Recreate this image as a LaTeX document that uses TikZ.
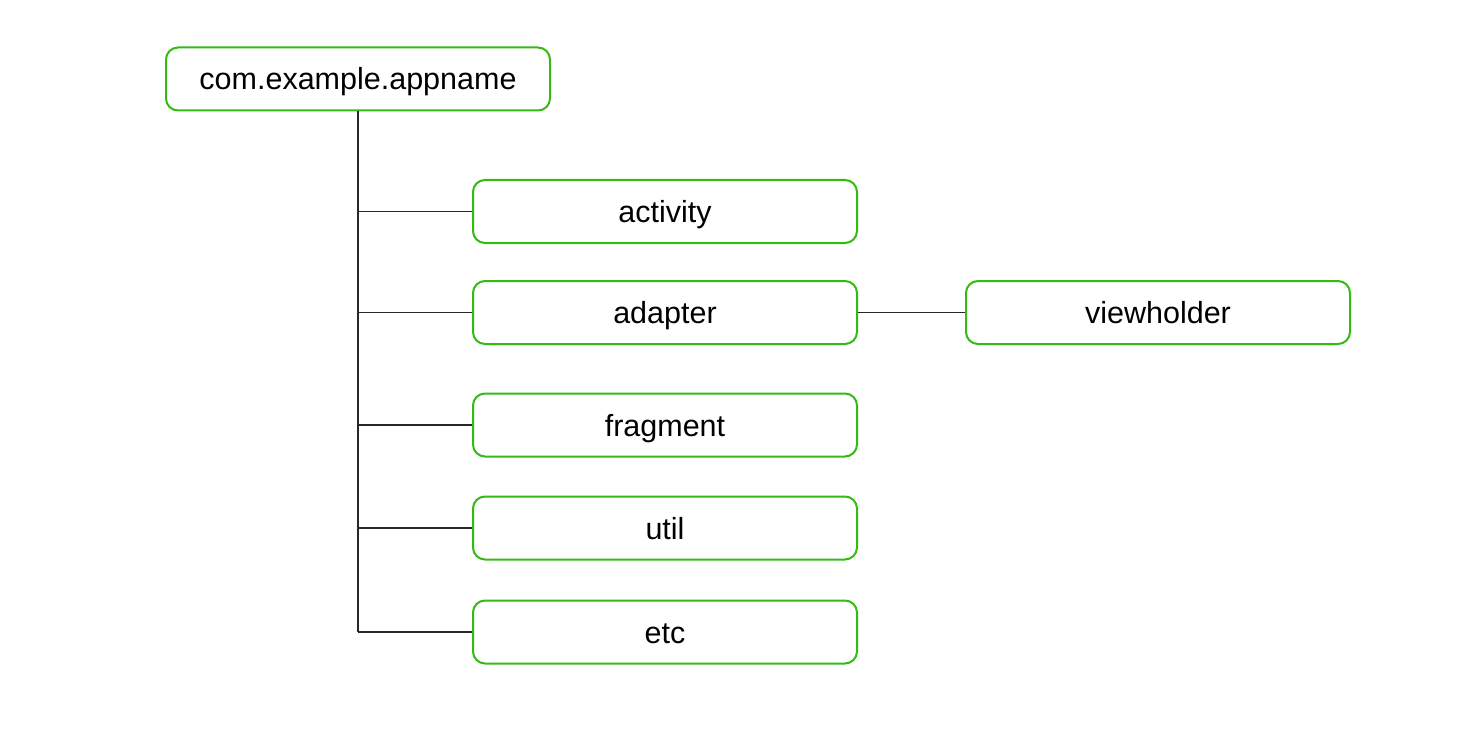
\documentclass[tikz,border=0pt]{standalone}
\usepackage{fontspec}
\setmainfont{Liberation Sans}
\definecolor{boxgreen}{RGB}{51,187,17}
\definecolor{linegray}{RGB}{40,40,40}
\begin{document}
\begin{tikzpicture}[x=1pt,y=-1pt,
  pkg/.style={draw=boxgreen, line width=2pt, rounded corners=12pt, minimum width=384pt, minimum height=63pt, inner sep=0pt, text height=24pt, text depth=2pt, font=\fontsize{30.5}{36}\selectfont, fill=white},
  conn/.style={draw=linegray, line width=1.3pt}]
\useasboundingbox (0,0) rectangle (1464,738);
\node[pkg] (root) at (358,79) {com.example.appname};
\node[pkg] (activity) at (665,211.5) {activity};
\node[pkg] (adapter) at (665,312.5) {adapter};
\node[pkg] (viewholder) at (1158,312.5) {viewholder};
\node[pkg] (fragment) at (665,425) {fragment};
\node[pkg] (util) at (665,528) {util};
\node[pkg] (etc) at (665,632) {etc};
\coordinate (tend) at (358,632);
\draw[conn] (root.south) -- (tend);
\foreach \n in {activity,adapter,fragment,util,etc}{
  \draw[conn] (\n.west) -- (root.south |- \n.west);
}
\draw[conn] (adapter.east) -- (viewholder.west);
\end{tikzpicture}
\end{document}
